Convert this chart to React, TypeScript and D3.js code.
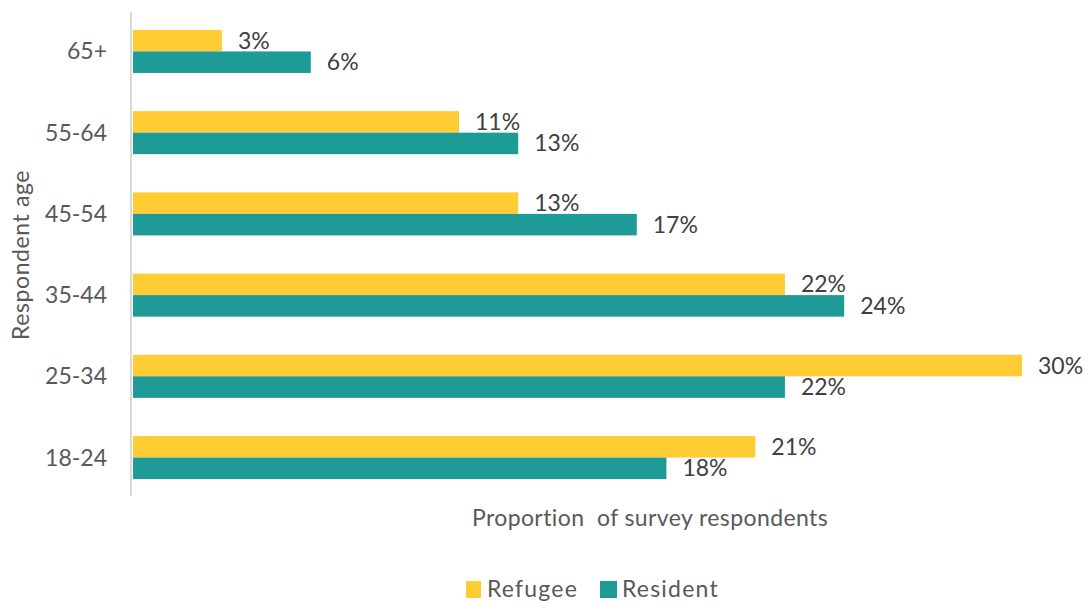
import React from "react";
import * as d3 from "d3";

const categories = ["65+", "55-64", "45-54", "35-44", "25-34", "18-24"];
const refugee = [3, 11, 13, 22, 30, 21];
const resident = [6, 13, 17, 24, 22, 18];
const seriesNames = ["Refugee", "Resident"];
const colors = ["#FFCC33", "#1E9A97"];

const W = 1089;
const H = 604;
const FONT = "Lato, 'Open Sans', sans-serif";

export default function App() {
  const x = d3.scaleLinear().domain([0, 30]).range([133, 1022]);
  const y = d3.scaleBand<string>().domain(categories).range([10, 499]).paddingInner(0.47).paddingOuter(0.245);
  const sub = d3.scaleBand<string>().domain(seriesNames).range([0, y.bandwidth()]);
  const series = [refugee, resident];

  return (
    <svg width={W} height={H} style={{ position: "absolute", left: 0, top: 0, background: "#fff" }} fontFamily={FONT}>
      {categories.map((c, i) => (
        <g key={c}>
          {series.map((vals, s) => {
            const y0 = (y(c) as number) + (sub(seriesNames[s]) as number);
            const h = sub.bandwidth();
            return (
              <g key={s}>
                <rect x={x(0)} y={y0} width={x(vals[i]) - x(0)} height={h} fill={colors[s]} />
                <text x={x(vals[i]) + 16} y={y0 + h / 2} dy="0.35em" fontSize={23} fill="#404040">
                  {vals[i]}%
                </text>
              </g>
            );
          })}
          <text x={107} y={(y(c) as number) + y.bandwidth() / 2} dy="0.35em" textAnchor="end" fontSize={23} fill="#595959">
            {c}
          </text>
        </g>
      ))}
      <line x1={131} x2={131} y1={12} y2={496} stroke="#d9d9d9" strokeWidth={2} />
      <text transform={`translate(29,255) rotate(-90)`} textAnchor="middle" fontSize={23} fill="#595959" letterSpacing={0.6}>
        Respondent age
      </text>
      <text x={650} y={518} dy="0.35em" textAnchor="middle" fontSize={23} fill="#595959" letterSpacing={0.4} style={{ whiteSpace: "pre" }}>
        {"Proportion  of survey respondents"}
      </text>
      <g>
        <rect x={466} y={581} width={15} height={17} fill={colors[0]} />
        <text x={487} y={589} dy="0.35em" fontSize={23} fill="#595959" letterSpacing={1.2}>
          {seriesNames[0]}
        </text>
        <rect x={600} y={581} width={17} height={17} fill={colors[1]} />
        <text x={622} y={589} dy="0.35em" fontSize={23} fill="#595959" letterSpacing={1.2}>
          {seriesNames[1]}
        </text>
      </g>
    </svg>
  );
}
